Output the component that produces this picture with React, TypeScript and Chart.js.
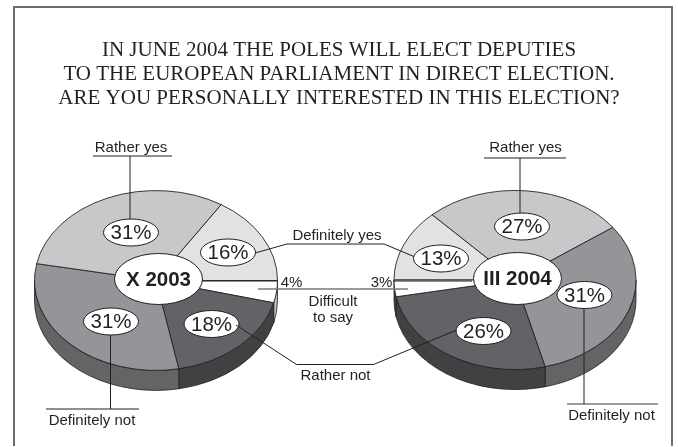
import React, { useEffect, useRef } from "react";
import { Chart, registerables } from "chart.js";

Chart.register(...registerables);

const titleLines = [
  "IN JUNE 2004 THE POLES WILL ELECT DEPUTIES",
  "TO THE EUROPEAN PARLIAMENT IN DIRECT ELECTION.",
  "ARE YOU PERSONALLY INTERESTED IN THIS ELECTION?",
];

// Clockwise slice order of each survey wave.
const categories2003 = ["Definitely yes", "Difficult to say", "Rather not", "Definitely not", "Rather yes"];
const values2003 = [16, 4, 18, 31, 31];
const categories2004 = ["Definitely yes", "Rather yes", "Definitely not", "Rather not", "Difficult to say"];
const values2004 = [13, 27, 31, 26, 3];

const topColors: Record<string, string> = {
  "Definitely yes": "#e1e2e4",
  "Difficult to say": "#ffffff",
  "Rather not": "#626366",
  "Definitely not": "#939598",
  "Rather yes": "#c6c8ca",
};
const wallColors: Record<string, string> = {
  "Definitely yes": "#bcbec0",
  "Difficult to say": "#bcbec0",
  "Rather not": "#414143",
  "Definitely not": "#636466",
  "Rather yes": "#808285",
};

const INK = "#231f20";
const GREY_RULE = "#77787b";
const SANS = "'Liberation Sans', Arial, sans-serif";
const SQUASH = 0.74;
const DEPTH = 20;

type Pt = [number, number];
type Rule = { points: Pt[]; grey?: boolean };
type PieLayout = {
  cx: number;
  cy: number;
  radius: number;
  rotation: number;
  hubWidth: number;
  hubHeight: number;
  bubbles: Record<string, Pt>;
  rules: Rule[];
  captions: { text: string; x: number; y: number }[];
  wallOverride?: Record<string, string>;
  withFrame?: boolean;
};

const layout2003: PieLayout = {
  cx: 156,
  cy: 280.5,
  radius: 121.5,
  rotation: 32.4,
  hubWidth: 88,
  hubHeight: 51,
  bubbles: {
    "Rather yes": [131, 232.5],
    "Definitely yes": [228, 252.5],
    "Definitely not": [111, 321.5],
    "Rather not": [211.5, 324],
  },
  rules: [
    { points: [[93, 156], [172, 156]] },
    { points: [[130, 156], [130, 222]] },
    { points: [[46, 409], [139, 409]] },
    { points: [[110.5, 334], [110.5, 409]] },
    { points: [[200, 281], [277.5, 281]] },
  ],
  captions: [
    { text: "Rather yes", x: 131, y: 148 },
    { text: "Definitely not", x: 92, y: 421 },
    { text: "4%", x: 291.5, y: 283 },
  ],
  withFrame: true,
};

const layout2004: PieLayout = {
  cx: 515,
  cy: 280,
  radius: 121,
  rotation: 270,
  hubWidth: 88,
  hubHeight: 52,
  bubbles: {
    "Rather yes": [522, 226.5],
    "Definitely yes": [441, 258.5],
    "Definitely not": [584.5, 295],
    "Rather not": [483.5, 331],
  },
  rules: [
    { points: [[484, 158], [566, 158]] },
    { points: [[520, 158], [520, 214]] },
    { points: [[567, 404], [658, 404]], grey: true },
    { points: [[584, 306], [584, 404]] },
    { points: [[394, 281], [472, 281]] },
    { points: [[255, 253], [287, 244], [384, 244], [415, 257]] },
    { points: [[258, 289], [408, 289]], grey: true },
    { points: [[236, 325], [296.5, 364.5], [373.5, 364.5], [459, 329]] },
  ],
  captions: [
    { text: "Rather yes", x: 525.5, y: 148 },
    { text: "Definitely not", x: 611.5, y: 416 },
    { text: "3%", x: 381.5, y: 283 },
    { text: "Definitely yes", x: 337, y: 236 },
    { text: "Difficult", x: 333, y: 301.5 },
    { text: "to say", x: 333, y: 318 },
    { text: "Rather not", x: 335.5, y: 376 },
  ],
  wallOverride: { "Difficult to say": "#414143" },
};

// Draws a flat pie as a tilted disc: squashes the arcs and adds the rim below them.
const discPlugin = (pie: PieLayout, names: string[]) => ({
  id: "disc",
  beforeDraw(chart: any) {
    if (!pie.withFrame) return;
    const { ctx } = chart;
    ctx.save();
    ctx.strokeStyle = "#6d6e71";
    ctx.lineWidth = 2;
    ctx.beginPath();
    ctx.moveTo(14, 446);
    ctx.lineTo(14, 7);
    ctx.lineTo(672, 7);
    ctx.lineTo(672, 446);
    ctx.stroke();
    ctx.restore();
  },
  afterDatasetsUpdate(chart: any) {
    for (const arc of chart.getDatasetMeta(0).data) {
      arc.x = pie.cx;
      arc.y = pie.cy;
      arc.innerRadius = 0;
      arc.outerRadius = pie.radius;
    }
  },
  beforeDatasetDraw(chart: any, args: any) {
    const { ctx } = chart;
    const a = pie.radius;
    const b = pie.radius * SQUASH;
    ctx.save();
    ctx.lineWidth = 0.8;
    ctx.strokeStyle = INK;
    args.meta.data.forEach((arc: any, i: number) => {
      for (const turn of [-2 * Math.PI, 0, 2 * Math.PI]) {
        const from = Math.max(arc.startAngle + turn, 0);
        const to = Math.min(arc.endAngle + turn, Math.PI);
        if (from >= to) continue;
        ctx.beginPath();
        ctx.ellipse(pie.cx, pie.cy, a, b, 0, from, to);
        ctx.ellipse(pie.cx, pie.cy + DEPTH, a, b, 0, to, from, true);
        ctx.closePath();
        ctx.fillStyle = pie.wallOverride?.[names[i]] ?? wallColors[names[i]];
        ctx.fill();
        ctx.stroke();
      }
    });
    ctx.restore();
    ctx.save();
    ctx.translate(pie.cx, pie.cy);
    ctx.scale(1, SQUASH);
    ctx.translate(-pie.cx, -pie.cy);
  },
  afterDatasetDraw(chart: any) {
    chart.ctx.restore();
  },
  afterDatasetsDraw(chart: any) {
    const { ctx } = chart;
    const dataset = chart.data.datasets[0];
    ctx.save();
    ctx.fillStyle = INK;
    for (const rule of pie.rules) {
      ctx.strokeStyle = rule.grey ? GREY_RULE : INK;
      ctx.lineWidth = rule.grey ? 1.6 : 1;
      ctx.beginPath();
      rule.points.forEach(([x, y], i) => (i ? ctx.lineTo(x, y) : ctx.moveTo(x, y)));
      ctx.stroke();
    }
    ctx.strokeStyle = INK;
    ctx.lineWidth = 1;
    ctx.textAlign = "center";
    ctx.textBaseline = "middle";
    ctx.font = `15px ${SANS}`;
    for (const c of pie.captions) {
      ctx.fillText(c.text, c.x, c.y);
    }
    // White bubbles carrying each slice's percentage.
    names.forEach((name, i) => {
      const at = pie.bubbles[name];
      if (!at) return;
      ctx.beginPath();
      ctx.ellipse(at[0], at[1], 27.5, 13.5, 0, 0, 2 * Math.PI);
      ctx.fillStyle = "#ffffff";
      ctx.fill();
      ctx.stroke();
      ctx.fillStyle = INK;
      ctx.font = `20.5px ${SANS}`;
      ctx.fillText(`${dataset.data[i]}%`, at[0], at[1] + 1);
    });
    // Central hub naming the survey wave.
    ctx.beginPath();
    ctx.ellipse(pie.cx + 2.5, pie.cy - 1.5, pie.hubWidth / 2, pie.hubHeight / 2, 0, 0, 2 * Math.PI);
    ctx.fillStyle = "#ffffff";
    ctx.fill();
    ctx.stroke();
    ctx.fillStyle = INK;
    ctx.font = `bold 20.5px ${SANS}`;
    ctx.fillText(dataset.label, pie.cx + 2.5, pie.cy - 0.5);
    ctx.restore();
  },
});

const makeChart = (
  canvas: HTMLCanvasElement,
  pie: PieLayout,
  wave: string,
  names: string[],
  values: number[],
  title: string[] | null,
) =>
  new Chart(canvas, {
    type: "pie",
    data: {
      labels: names,
      datasets: [
        {
          label: wave,
          data: values,
          backgroundColor: names.map((n) => topColors[n]),
          borderColor: INK,
          borderWidth: 1,
          clip: false,
        } as any,
      ],
    },
    options: {
      animation: false,
      responsive: false,
      devicePixelRatio: 1,
      rotation: pie.rotation,
      plugins: {
        legend: { display: false },
        tooltip: { enabled: false },
        title: title
          ? {
              display: true,
              text: title,
              color: INK,
              font: { family: "'Liberation Serif', 'Times New Roman', serif", size: 21, weight: "normal", lineHeight: 1.14 },
              padding: { top: 39, bottom: 10 },
            }
          : { display: false },
      },
    } as any,
    plugins: [discPlugin(pie, names)],
  });

export default function App() {
  const first = useRef<HTMLCanvasElement>(null);
  const second = useRef<HTMLCanvasElement>(null);

  useEffect(() => {
    const a = makeChart(first.current!, layout2003, "X 2003", categories2003, values2003, titleLines);
    const b = makeChart(second.current!, layout2004, "III 2004", categories2004, values2004, null);
    return () => {
      a.destroy();
      b.destroy();
    };
  }, []);

  const layer: React.CSSProperties = { position: "absolute", left: 0, top: 0 };
  return (
    <div style={{ position: "absolute", left: 0, top: 0, width: 678, height: 447, background: "#ffffff", overflow: "hidden" }}>
      <canvas ref={first} width={678} height={447} style={layer} />
      <canvas ref={second} width={678} height={447} style={layer} />
    </div>
  );
}
